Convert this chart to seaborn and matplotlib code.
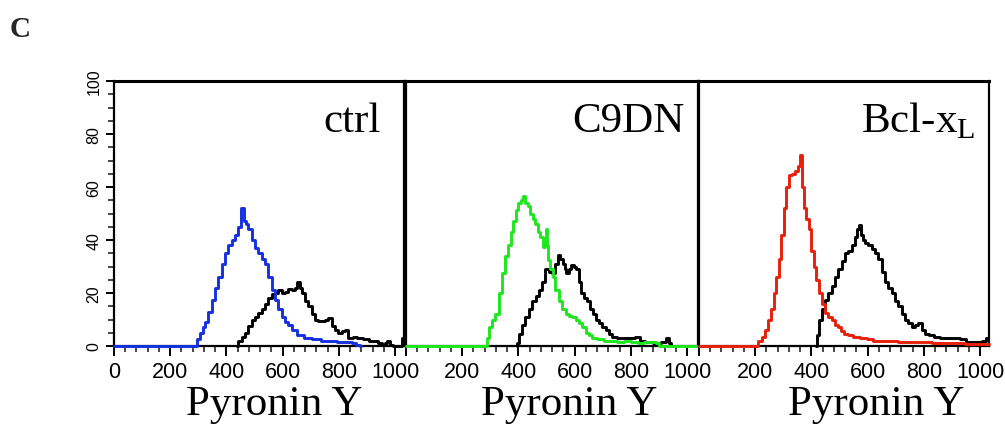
import matplotlib
matplotlib.use("Agg")
import numpy as np
import pandas as pd
import seaborn as sns
import matplotlib.pyplot as plt
from matplotlib.ticker import MultipleLocator, FixedLocator, FixedFormatter

sns.set_style("ticks")
plt.rcParams["font.family"] = ["Liberation Sans Narrow", "Liberation Sans", "DejaVu Sans"]
plt.rcParams["mathtext.fontset"] = "custom"
plt.rcParams["mathtext.rm"] = "Liberation Serif"

# ---------------- data ----------------
panel_names = ["ctrl", "C9DN", r"Bcl-x$_{\rm L}$"]
colors = ["#1530e0", "#1fe61f", "#e8200a"]

ctrl_x = [0, 290, 300, 310, 320, 330, 342, 353, 365, 377, 389, 401, 413, 425, 437, 448, 458, 465, 472,
          484, 496, 508, 520, 531, 543, 555, 567, 579, 591, 603, 615, 626, 644, 662, 690, 721, 750, 780,
          810, 840, 855, 870, 880]
ctrl_y = [0, 0, 2.5, 5, 7, 9, 13, 17.5, 22, 26, 31, 35, 38, 40, 42, 45, 52, 47, 46,
          44, 40, 37, 35, 33, 31, 26, 21, 17.5, 14, 11, 9, 8, 6, 4, 3, 2.5, 2, 2,
          1.5, 1.5, 1, 0.2, 0]
ctrl_ref_x = [437, 448, 460, 472, 484, 496, 508, 520, 531, 543, 555, 567, 579, 591, 603, 614, 626, 638,
              648, 656, 665, 674, 686, 697, 709, 721, 733, 745, 757, 769, 780, 792, 804, 816, 828, 840,
              858, 875, 899, 917, 935, 946, 958, 970, 976, 985, 1000, 1025, 1028]
ctrl_ref_y = [0, 2, 3.5, 5, 7.5, 10, 11, 12.5, 14, 16, 18, 19.5, 20, 21, 20, 20.5, 21.5, 21,
              22, 24, 22, 20, 17, 15, 12, 10, 9.5, 9.5, 10, 10.5, 7.5, 6, 5, 5.5, 6, 3,
              3.5, 3, 2.5, 2, 2, 1, 0.3, 1, 2, 0.5, 0, 0, 3]

c9dn_x = [0, 285, 290, 300, 312, 324, 336, 348, 360, 368, 377, 386, 395, 405, 412, 419, 428, 437, 446,
          455, 464, 473, 482, 490, 496, 502, 505, 508, 517, 526, 538, 550, 562, 574, 586, 598, 610, 621,
          633, 645, 657, 669, 693, 717, 740, 764, 788, 812, 836, 860, 883, 895, 907, 1040]
c9dn_y = [0, 0, 3, 7, 10, 12, 20, 27.5, 34, 38, 43, 47, 51.5, 54, 55, 56.5, 54, 53, 50,
          48, 46, 43, 41, 37.5, 40, 44, 38, 32.5, 29, 26, 21, 17, 14, 12, 11.5, 11, 10, 8.5,
          7, 5, 4, 3, 2.5, 2, 2, 1.5, 2, 1.5, 1, 1.5, 1.5, 1, 0, 0]
c9dn_ref_x = [395, 398, 407, 419, 431, 443, 455, 467, 479, 490, 502, 514, 526, 535, 544, 553, 562, 568,
              574, 583, 592, 601, 610, 618, 627, 639, 651, 660, 669, 681, 693, 705, 717, 729, 740, 764,
              788, 806, 824, 842, 860, 895, 920, 931, 940, 949]
c9dn_ref_y = [0, 1, 4.5, 8, 11, 14, 17, 19, 21, 24, 29, 28, 27.5, 31, 34.5, 33, 31, 29,
              27.5, 29, 30.5, 30, 29, 24, 20, 18, 17, 14, 12, 10, 8.5, 7, 6, 4.5, 3.5, 3,
              3, 3, 3.5, 2, 1.5, 1, 1.5, 3, 1, 0]

bcl_x = [0, 205, 217, 229, 241, 253, 262, 270, 279, 288, 297, 306, 315, 324, 336, 348, 356, 365, 371,
         377, 386, 395, 404, 413, 422, 430, 442, 454, 466, 478, 490, 502, 511, 520, 537, 561, 585, 608,
         632, 680, 739, 798, 857, 917, 976, 1032]
bcl_y = [0, 0, 2, 3.5, 6, 10, 14, 20, 26, 33, 42, 52, 60, 64.5, 65, 66, 68, 72, 60,
         52, 48, 44, 36, 30, 25, 20, 16, 12.5, 11, 10, 8, 7, 5.5, 4.7, 4, 3.5, 3, 2.5,
         2, 2, 1.5, 1.5, 1.2, 1, 0.8, 0.8]
bcl_ref_x = [418, 421, 431, 442, 454, 466, 478, 490, 502, 514, 525, 537, 549, 561, 567, 573, 579, 585,
             597, 609, 620, 632, 644, 656, 668, 680, 691, 703, 715, 727, 739, 751, 763, 775, 786, 798,
             810, 828, 846, 870, 893, 917, 940, 958, 976, 1000, 1015, 1030]
bcl_ref_y = [0, 4, 10, 14, 17.5, 20, 22.5, 26, 29, 32, 35, 36, 38, 41, 44, 45.5, 42, 40,
             39, 38, 36.5, 35, 33, 28, 24, 22, 20, 17, 15, 12, 10, 8.5, 7, 8, 8.5, 6,
             4.7, 4, 3.5, 3, 3, 3, 2.5, 1.5, 1.5, 1.5, 2, 3]

x_ticks = [0, 200, 400, 600, 800, 1000]
y_ticks = [0, 20, 40, 60, 80, 100]
x_label = "Pyronin Y"
fig_letter = "C"

series = [
    (ctrl_x, ctrl_y, ctrl_ref_x, ctrl_ref_y),
    (c9dn_x, c9dn_y, c9dn_ref_x, c9dn_ref_y),
    (bcl_x, bcl_y, bcl_ref_x, bcl_ref_y),
]

# ---------------- layout ----------------
W, H = 1005, 431
fig = plt.figure(figsize=(W / 100, H / 100), dpi=100)
boxes = [(114, 404), (406, 698), (699, 989)]
y0_px, y100_px = 347, 82
px_per_unit = 0.281
name_right = [381, 685, 975]
label_center = [274, 569, 876]

for i, ((l, r), (cx, cy, rx, ry)) in enumerate(zip(boxes, series)):
    ax = fig.add_axes([l / W, (H - y0_px) / H, (r - l) / W, (y0_px - y100_px) / H])
    ax.set_facecolor("white")
    df_ref = pd.DataFrame({"x": rx, "y": ry})
    df_col = pd.DataFrame({"x": cx, "y": cy})
    sns.lineplot(data=df_ref, x="x", y="y", ax=ax, color="black", lw=2.1,
                 drawstyle="steps-mid", estimator=None, sort=True, zorder=3, clip_on=False)
    sns.lineplot(data=df_col, x="x", y="y", ax=ax, color=colors[i], lw=2.1,
                 drawstyle="steps-mid", estimator=None, sort=True, zorder=4, clip_on=False)
    ax.set_xlim(0, (r - l) / px_per_unit)
    ax.set_ylim(0, 100)
    for s in ax.spines.values():
        s.set_color("black")
        s.set_linewidth(1.6)
        s.set_zorder(2)
    ax.spines["top"].set_linewidth(2.2)
    ax.set_xlabel("")
    ax.set_ylabel("")
    ax.xaxis.set_major_locator(FixedLocator(x_ticks))
    labels = [str(t) for t in x_ticks]
    if i > 0:
        labels[0] = ""
    ax.xaxis.set_major_formatter(FixedFormatter(labels))
    ax.xaxis.set_minor_locator(MultipleLocator(40))
    ax.tick_params(axis="x", which="major", direction="out", length=7, width=1.4, pad=4,
                   labelsize=15.5, colors="black")
    ax.tick_params(axis="x", which="minor", direction="out", length=4, width=1.2)
    if i == 0:
        ax.yaxis.set_major_locator(FixedLocator(y_ticks))
        ax.yaxis.set_minor_locator(MultipleLocator(5))
        ax.tick_params(axis="y", which="major", direction="out", length=6, width=1.4, pad=3,
                       labelsize=11.5, colors="black")
        ax.tick_params(axis="y", which="minor", direction="out", length=4, width=1.2)
        for t in ax.get_yticklabels():
            t.set_rotation(90)
            t.set_va("center")
    else:
        ax.set_yticks([])
    fig.text(name_right[i] / W, 1 - 132 / H, panel_names[i], ha="right", va="baseline",
             fontsize=31, family="Liberation Serif", color="black")
    fig.text(label_center[i] / W, 1 - 415 / H, x_label, ha="center", va="baseline",
             fontsize=31, family="Liberation Serif", color="black")

fig.text(10 / W, 1 - 37 / H, fig_letter, ha="left", va="baseline", fontsize=21,
         fontweight="bold", family="Liberation Serif")

fig.savefig("out.png", dpi=100, facecolor="white")
